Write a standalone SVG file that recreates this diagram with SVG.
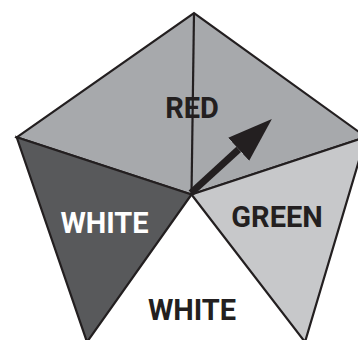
<svg xmlns="http://www.w3.org/2000/svg" width="358" height="340" viewBox="0 0 358 340">
  <style>
    .edge { stroke: #231f20; stroke-width: 2.2; stroke-linejoin: miter; }
    .lbl { font-family: Roboto, "Liberation Sans", sans-serif; font-weight: 700; font-size: 29px; text-anchor: middle; fill: #231f20; }
    .lbl-w { fill: #ffffff; }
  </style>
  <defs>
    <marker id="head" viewBox="0 -16 46 32" refX="0" refY="0" markerWidth="46" markerHeight="32" markerUnits="userSpaceOnUse" orient="auto">
      <path d="M0,-15.5 L45,0 L0,15.5 Z" fill="#231f20"/>
    </marker>
  </defs>
  <rect width="358" height="340" fill="#ffffff"/>

  <g id="red">
    <polygon class="edge" points="16.7,137.3 194,13 366,137 191.5,194.5" fill="#a7a9ac"/>
    <line class="edge" x1="194" y1="13" x2="191.5" y2="194.5"/>
    <text class="lbl" x="192" y="117.5">RED</text>
  </g>

  <g id="white-left">
    <polygon class="edge" points="16.7,137.3 191.5,194.5 87,342" fill="#58595b"/>
    <text class="lbl lbl-w" x="104.5" y="233">WHITE</text>
  </g>

  <g id="green">
    <polygon class="edge" points="191.5,194.5 366,137 305,342" fill="#c7c8ca"/>
    <text class="lbl" x="277" y="227">GREEN</text>
  </g>

  <g id="white-bottom">
    <text class="lbl" x="192" y="320">WHITE</text>
  </g>

  <g id="connectors">
    <line x1="191" y1="193" x2="238.7" y2="149.3" stroke="#231f20" stroke-width="7" marker-end="url(#head)"/>
  </g>
</svg>
